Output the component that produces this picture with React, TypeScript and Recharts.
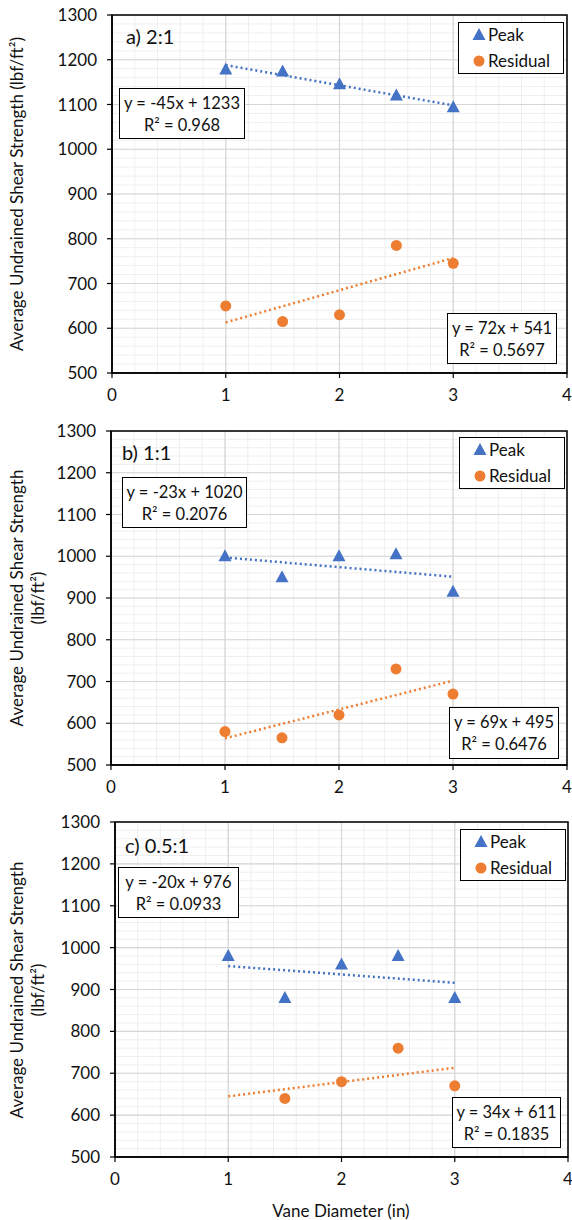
import React from 'react';
import {
  ScatterChart, Scatter, XAxis, YAxis, CartesianGrid, ReferenceArea, ReferenceLine
} from 'recharts';

const FONT = 'Lato, "Open Sans", sans-serif';
const BLUE = '#4472C4';
const ORANGE = '#ED7D31';

// vane diameters (in)
const DIAMETERS = [1, 1.5, 2, 2.5, 3];

// a) 2:1
const PEAK_A = [1178, 1174, 1145, 1120, 1094];
const RESIDUAL_A = [650, 615, 630, 785, 745];
// b) 1:1
const PEAK_B = [1000, 950, 1000, 1005, 915];
const RESIDUAL_B = [580, 565, 620, 730, 670];
// c) 0.5:1
const PEAK_C = [980, 880, 960, 980, 880];
const RESIDUAL_C = [null, 640, 680, 760, 670];

// trendline equations shown on the chart: [slope, intercept, r2]
const TREND_PEAK_A = [-45, 1233, '0.968'];
const TREND_RES_A = [72, 541, '0.5697'];
const TREND_PEAK_B = [-23, 1020, '0.2076'];
const TREND_RES_B = [69, 495, '0.6476'];
const TREND_PEAK_C = [-20, 976, '0.0933'];
const TREND_RES_C = [34, 611, '0.1835'];

const X_TICKS = [0, 1, 2, 3, 4];
const Y_TICKS = [500, 600, 700, 800, 900, 1000, 1100, 1200, 1300];

const X_MINOR: number[] = [];
for (let i = 0; i <= 20; i++) X_MINOR.push(i * 0.2);
const Y_MINOR: number[] = [];
for (let v = 500; v <= 1300; v += 20) Y_MINOR.push(v);

const toPoints = (vals: (number | null)[]) =>
  DIAMETERS.map((x, i) => ({ x, y: vals[i] })).filter(p => p.y !== null);

const Triangle = (props: any) => {
  const { cx, cy } = props;
  return <path d={`M${cx},${cy - 7} L${cx + 6.5},${cy + 5} L${cx - 6.5},${cy + 5} Z`} fill={BLUE} />;
};
const Dot = (props: any) => <circle cx={props.cx} cy={props.cy} r={5.5} fill={ORANGE} />;

const fmtEq = (t: any[]) => {
  const m = t[0] as number;
  const b = t[1] as number;
  return `y = ${m}x + ${b}`;
};

const EqBox = ({ left, top, width, height, trend }: any) => (
  <div style={{
    position: 'absolute', left, top, width, height, boxSizing: 'border-box',
    border: '1.5px solid #000', background: '#fff', fontFamily: FONT, fontSize: 16.5,
    color: '#111', textAlign: 'center', lineHeight: '22px', paddingTop: 3, whiteSpace: 'nowrap'
  }}>
    <div>{fmtEq(trend)}</div>
    <div>R² = {trend[2]}</div>
  </div>
);

const LegendBox = ({ left, top }: any) => (
  <div style={{
    position: 'absolute', left, top, width: 106, height: 52, boxSizing: 'border-box',
    border: '1.5px solid #000', background: '#fff', fontFamily: FONT, fontSize: 17, color: '#111'
  }}>
    <svg width={20} height={50} style={{ position: 'absolute', left: 10, top: 0 }}>
      <path d="M10,5 L16.5,17 L3.5,17 Z" fill={BLUE} />
      <circle cx={10} cy={38} r={5.5} fill={ORANGE} />
    </svg>
    <div style={{ position: 'absolute', left: 29, top: 1, lineHeight: '22px' }}>Peak</div>
    <div style={{ position: 'absolute', left: 29, top: 27, lineHeight: '22px' }}>Residual</div>
  </div>
);

const Panel = ({ top, height, marginTop, yWidth, xHeight, right, peak, residual, tPeak, tRes }: any) => {
  const seg = (t: any[]) => [
    { x: 1, y: (t[0] as number) * 1 + (t[1] as number) },
    { x: 3, y: (t[0] as number) * 3 + (t[1] as number) },
  ];
  const tick = { fill: '#111', fontSize: 17, fontFamily: FONT };
  return (
    <div style={{ position: 'absolute', left: 0, top }}>
      <ScatterChart width={572} height={height} margin={{ top: marginTop, right, bottom: 0, left: 0 }}>
        <CartesianGrid stroke="#efefef" strokeWidth={1} horizontalValues={Y_MINOR} verticalValues={X_MINOR} />
        <CartesianGrid stroke="#d6d6d6" strokeWidth={1.2} horizontalValues={Y_TICKS} verticalValues={X_TICKS} />
        <XAxis
          type="number" dataKey="x" domain={[0, 4]} ticks={X_TICKS} height={xHeight}
          axisLine={{ stroke: '#000', strokeWidth: 1.5 }} tickLine={{ stroke: '#000', strokeWidth: 1.2 }}
          tickSize={5} tickMargin={11} tick={tick} interval={0}
        />
        <YAxis
          type="number" dataKey="y" domain={[500, 1300]} ticks={Y_TICKS} width={yWidth}
          axisLine={{ stroke: '#000', strokeWidth: 1.5 }} tickLine={{ stroke: '#000', strokeWidth: 1.2 }}
          tickSize={5} tickMargin={10} tick={tick} interval={0}
        />
        <ReferenceArea x1={0} x2={4} y1={500} y2={1300} fill="none" stroke="#000" strokeWidth={1.5} ifOverflow="visible" />
        <ReferenceLine segment={seg(tPeak)} stroke={BLUE} strokeWidth={2.5} strokeDasharray="2 3" />
        <ReferenceLine segment={seg(tRes)} stroke={ORANGE} strokeWidth={2.5} strokeDasharray="2 3" />
        <Scatter name="Peak" data={toPoints(peak)} shape={Triangle} isAnimationActive={false} />
        <Scatter name="Residual" data={toPoints(residual)} shape={Dot} isAnimationActive={false} />
      </ScatterChart>
    </div>
  );
};

const yTitle = (cx: number, cy: number, twoLines: boolean) => (
  <div style={{
    position: 'absolute', left: cx, top: cy, transform: 'translate(-50%, -50%) rotate(-90deg)',
    whiteSpace: 'nowrap', textAlign: 'center', fontFamily: FONT, fontSize: 17, color: '#111', lineHeight: '21px'
  }}>
    {twoLines ? (
      <>
        <div>Average Undrained Shear Strength</div>
        <div>(lbf/ft²)</div>
      </>
    ) : (
      <div>Average Undrained Shear Strength (lbf/ft²)</div>
    )}
  </div>
);

const panelLabel = (text: string, left: number, cy: number) => (
  <div style={{
    position: 'absolute', left, top: cy - 12, fontFamily: FONT, fontSize: 20, color: '#111', lineHeight: '24px'
  }}>{text}</div>
);

export default function App() {
  return (
    <div style={{ position: 'absolute', left: 0, top: 0, width: 572, height: 1220, background: '#fff' }}>
      <Panel top={0} height={410} marginTop={15} yWidth={112} xHeight={37} right={5}
        peak={PEAK_A} residual={RESIDUAL_A} tPeak={TREND_PEAK_A} tRes={TREND_RES_A} />
      <Panel top={400} height={405} marginTop={31} yWidth={111} xHeight={40} right={5}
        peak={PEAK_B} residual={RESIDUAL_B} tPeak={TREND_PEAK_B} tRes={TREND_RES_B} />
      <Panel top={800} height={420} marginTop={22} yWidth={115} xHeight={63} right={4}
        peak={PEAK_C} residual={RESIDUAL_C} tPeak={TREND_PEAK_C} tRes={TREND_RES_C} />

      {yTitle(16, 194, false)}
      {yTitle(27, 598, true)}
      {yTitle(27, 990, true)}

      {panelLabel('a) 2:1', 126, 36)}
      {panelLabel('b) 1:1', 122, 452)}
      {panelLabel('c) 0.5:1', 125, 845)}

      <LegendBox left={458} top={22} />
      <LegendBox left={459} top={437} />
      <LegendBox left={460} top={829} />

      <EqBox left={119} top={88} width={126} height={51} trend={TREND_PEAK_A} />
      <EqBox left={447} top={313} width={110} height={51} trend={TREND_RES_A} />
      <EqBox left={122} top={477} width={125} height={51} trend={TREND_PEAK_B} />
      <EqBox left={449} top={707} width={110} height={52} trend={TREND_RES_B} />
      <EqBox left={118} top={867} width={121} height={51} trend={TREND_PEAK_C} />
      <EqBox left={452} top={1097} width={109} height={51} trend={TREND_RES_C} />

      <div style={{
        position: 'absolute', left: 341, top: 1210, transform: 'translate(-50%, -50%)',
        fontFamily: FONT, fontSize: 17, color: '#111', whiteSpace: 'nowrap'
      }}>Vane Diameter (in)</div>
    </div>
  );
}
